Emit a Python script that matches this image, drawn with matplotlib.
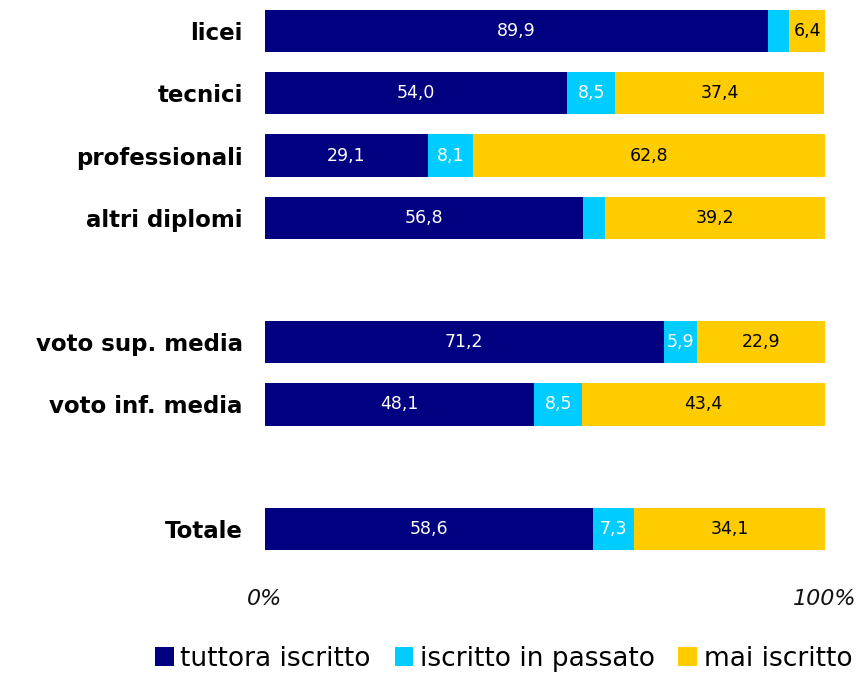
import matplotlib.pyplot as plt

# dati
categorie = ['licei', 'tecnici', 'professionali', 'altri diplomi',
             'voto sup. media', 'voto inf. media', 'Totale']
posizioni = [0, 1, 2, 3, 5, 6, 8]
tuttora = [89.9, 54.0, 29.1, 56.8, 71.2, 48.1, 58.6]
passato = [3.7, 8.5, 8.1, 4.0, 5.9, 8.5, 7.3]
mai = [6.4, 37.4, 62.8, 39.2, 22.9, 43.4, 34.1]

serie = ['tuttora iscritto', 'iscritto in passato', 'mai iscritto']
colori = ['#000080', '#00CCFF', '#FFCC00']
col_testo = ['white', 'white', 'black']

fig = plt.figure(figsize=(8.68, 6.74), dpi=100)
ax = fig.add_axes([265 / 868, 114 / 674, 560 / 868, 560 / 674])

left = [0] * len(categorie)
for vals, col, tc, nome in zip([tuttora, passato, mai], colori, col_testo, serie):
    bars = ax.barh(posizioni, vals, left=left, height=0.68, color=col, label=nome)
    for b, v, l in zip(bars, vals, left):
        if v >= 5:
            ax.text(l + v / 2, b.get_y() + b.get_height() / 2,
                    f'{v:.1f}'.replace('.', ','), ha='center', va='center',
                    color=tc, fontsize=12.5)
    left = [a + b for a, b in zip(left, vals)]

ax.set_xlim(0, 100)
ax.set_ylim(8.5, -0.5)
ax.set_yticks(posizioni)
ax.set_yticklabels(categorie, fontsize=16.5, fontweight='bold')
ax.set_xticks([0, 100])
ax.set_xticklabels(['0%', '100%'], fontsize=16, style='italic', color='#111111')
ax.tick_params(axis='both', length=0)
ax.tick_params(axis='y', pad=16)
ax.tick_params(axis='x', pad=21)
for s in ax.spines.values():
    s.set_visible(False)

leg = fig.legend(loc='lower right', bbox_to_anchor=(1.0, -0.02), ncol=3,
                 frameon=False, fontsize=19,
                 handlelength=0.7, handleheight=0.7, handletextpad=0.25,
                 columnspacing=0.9, borderaxespad=0.2)

fig.savefig('out.png', dpi=100)
